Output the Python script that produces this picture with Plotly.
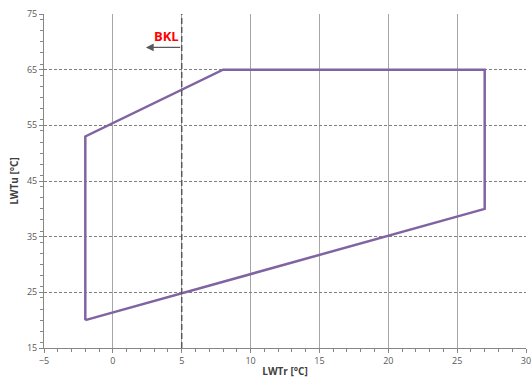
import plotly.graph_objects as go

# Envelope polygon (LWTr, LWTu)
env_x = [-2, -2, 8, 27, 27, -2]
env_y = [20, 53, 65, 65, 40, 20]

bkl_x = 5
bkl_label = "BKL"
arrow_tip = (2.4, 69.0)
x_title = "LWTr [°C]"
y_title = "LWTu [°C]"

fig = go.Figure()
fig.add_trace(go.Scatter(x=env_x, y=env_y, mode="lines",
                         line=dict(color="#8064A2", width=2.5), showlegend=False,
                         hoverinfo="skip"))
fig.add_trace(go.Scatter(x=[bkl_x, bkl_x], y=[15, 75], mode="lines",
                         line=dict(color="#595959", width=1.5, dash="6px,3px"),
                         showlegend=False, hoverinfo="skip"))

fig.add_annotation(x=arrow_tip[0], y=arrow_tip[1], ax=bkl_x, ay=arrow_tip[1],
                   xref="x", yref="y", axref="x", ayref="y", text="",
                   showarrow=True, arrowhead=2, arrowsize=1.2, arrowwidth=1.3,
                   arrowcolor="#595959")
fig.add_annotation(x=3.9, y=71.0, xref="x", yref="y", text="<b>" + bkl_label + "</b>",
                   showarrow=False, font=dict(color="#FF0000", size=13, family="Open Sans"))

fig.update_xaxes(range=[-5, 30], dtick=5, tick0=-5, showgrid=True, automargin=False,
                 ticklabeloverflow="allow",
                 gridcolor="#A6A6A6", gridwidth=1, zeroline=False,
                 showline=True, linecolor="#868686", linewidth=1,
                 ticks="outside", ticklen=4, tickcolor="#868686",
                 minor=dict(ticks="outside", dtick=1, ticklen=3, tickcolor="#868686", showgrid=False),
                 tickfont=dict(size=9, color="#595959", family="Open Sans"),
                 title=dict(text="<b>" + x_title + "</b>", standoff=2,
                            font=dict(size=10, color="#404040", family="Open Sans")))
fig.update_yaxes(range=[15, 75], dtick=10, tick0=15, showgrid=True, automargin=False,
                 gridcolor="#7F7F7F", gridwidth=1, griddash="3px,2px", zeroline=False,
                 showline=True, linecolor="#868686", linewidth=1,
                 ticks="outside", ticklen=4, tickcolor="#868686",
                 minor=dict(ticks="outside", dtick=2, ticklen=3, tickcolor="#868686", showgrid=False),
                 tickfont=dict(size=9, color="#595959", family="Open Sans"),
                 title=dict(text="<b>" + y_title + "</b>", standoff=6,
                            font=dict(size=10, color="#404040", family="Open Sans")))

fig.update_layout(width=531, height=382, margin=dict(l=44, r=5, t=14, b=34),
                  plot_bgcolor="white", paper_bgcolor="white")

fig.write_html("out.html", config={"displayModeBar": False},
               post_script="document.body.style.margin='0';document.body.style.overflow='hidden';")
